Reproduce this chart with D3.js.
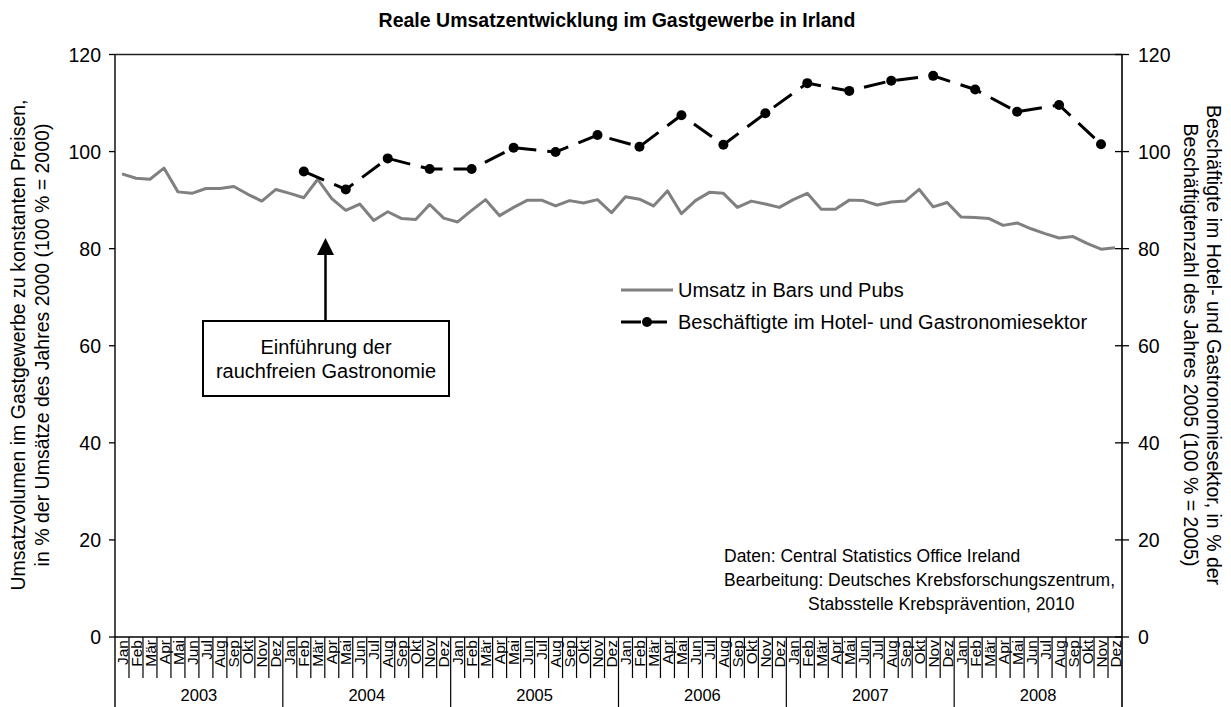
<!DOCTYPE html>
<html><head><meta charset="utf-8">
<script src="https://cdn.jsdelivr.net/npm/d3@7"></script>
<style>
html,body{margin:0;padding:0;background:#fff;}
svg text{font-family:"Liberation Sans",Arial,sans-serif;fill:#000;}
</style></head>
<body>
<svg id="c" width="1231" height="707"></svg>
<script>
const months = ["Jan","Feb","Mär","Apr","Mai","Jun","Jul","Aug","Sep","Okt","Nov","Dez"];
const years = ["2003","2004","2005","2006","2007","2008"];
const yTicks = [0,20,40,60,80,100,120];
// Umsatz in Bars und Pubs (monthly, Jan 2003 - Dez 2008)
const umsatz = [
 95.4,94.5,94.3,96.6,91.7,91.4,92.4,92.4,92.8,91.2,89.8,92.2,
 91.4,90.5,94.3,90.3,87.9,89.2,85.8,87.6,86.2,86.0,89.1,86.3,
 85.5,87.9,90.1,86.8,88.5,90.0,90.0,88.8,89.9,89.4,90.1,87.4,
 90.7,90.2,88.8,91.9,87.2,89.9,91.6,91.4,88.5,89.8,89.2,88.5,
 90.1,91.4,88.1,88.1,90.0,89.9,89.0,89.6,89.8,92.2,88.6,89.5,
 86.5,86.4,86.2,84.8,85.3,84.1,83.1,82.2,82.5,81.1,79.9,80.2];
// Beschäftigte im Hotel- und Gastronomiesektor (quarterly, Feb 2004 - Nov 2008)
const beschIndex = [13,16,19,22,25,28,31,34,37,40,43,46,49,52,55,58,61,64,67,70];
const besch = [95.9,92.2,98.6,96.4,96.4,100.8,99.9,103.4,101.0,107.5,
               101.4,107.9,114.1,112.5,114.6,115.6,112.8,108.2,109.6,101.5];
const seriesNames = ["Umsatz in Bars und Pubs","Beschäftigte im Hotel- und Gastronomiesektor"];

const svg = d3.select("#c");
const L = 115, R = 1122, T = 54.5, B = 637;
const nM = years.length * months.length;
const x = d3.scaleLinear().domain([0, nM]).range([L, R]);
const y = d3.scaleLinear().domain([0, 120]).range([B, T]);
const xc = i => x(i + 0.5);

// title
svg.append("text").attr("x", 617).attr("y", 27).attr("text-anchor","middle")
  .style("font-weight","bold").style("font-size","19.5px")
  .text("Reale Umsatzentwicklung im Gastgewerbe in Irland");

// frame
svg.append("line").attr("x1",L).attr("x2",R).attr("y1",T).attr("y2",T).attr("stroke","#222").attr("stroke-width",1.6);
svg.append("line").attr("x1",L).attr("x2",L).attr("y1",T).attr("y2",707).attr("stroke","#000").attr("stroke-width",1.4);
svg.append("line").attr("x1",R).attr("x2",R).attr("y1",T).attr("y2",707).attr("stroke","#000").attr("stroke-width",1.6);
svg.append("line").attr("x1",L).attr("x2",R).attr("y1",B).attr("y2",B).attr("stroke","#000").attr("stroke-width",1.4);

// y axes
const yl = svg.append("g");
yTicks.forEach(v=>{
  yl.append("line").attr("x1",L-6).attr("x2",L).attr("y1",y(v)).attr("y2",y(v)).attr("stroke","#000").attr("stroke-width",1.3);
  yl.append("text").attr("x",101).attr("y",y(v)).attr("dy","0.36em").attr("text-anchor","end")
    .style("font-size","19.5px").text(v);
  yl.append("line").attr("x1",R-7).attr("x2",R+7).attr("y1",y(v)).attr("y2",y(v)).attr("stroke","#000").attr("stroke-width",1.3);
  yl.append("text").attr("x",1138).attr("y",y(v)).attr("dy","0.36em").attr("text-anchor","start")
    .style("font-size","19.5px").text(v);
});

// x axis: month separators, month labels, year labels
for (let k = 1; k < nM; k++) {
  const yr = k % 12 === 0;
  svg.append("line").attr("x1",x(k)).attr("x2",x(k)).attr("y1",B).attr("y2", yr ? 707 : 678)
    .attr("stroke","#000").attr("stroke-width", 1.2);
}
for (let i = 0; i < nM; i++) {
  svg.append("text").attr("transform",`translate(${xc(i)},640) rotate(-90)`)
    .attr("text-anchor","end").attr("dy","0.36em").style("font-size","15.5px")
    .text(months[i % 12]);
}
years.forEach((yr,j)=>{
  svg.append("text").attr("x", x(j*12+6)).attr("y",701).attr("text-anchor","middle")
    .style("font-size","16.5px").text(yr);
});

// axis titles
svg.append("text").attr("transform","translate(18,345) rotate(-90)").attr("text-anchor","middle")
  .attr("dy","0.36em").style("font-size","19.5px").text("Umsatzvolumen im Gastgewerbe zu konstanten Preisen,");
svg.append("text").attr("transform","translate(42,345) rotate(-90)").attr("text-anchor","middle")
  .attr("dy","0.36em").style("font-size","19.5px").text("in % der Umsätze des Jahres 2000 (100 % = 2000)");
svg.append("text").attr("transform","translate(1214,345) rotate(90)").attr("text-anchor","middle")
  .attr("dy","0.36em").style("font-size","19.5px").text("Beschäftigte im Hotel- und Gastronomiesektor, in % der");
svg.append("text").attr("transform","translate(1191,345) rotate(90)").attr("text-anchor","middle")
  .attr("dy","0.36em").style("font-size","19.5px").text("Beschäftigtenzahl des Jahres 2005 (100 % = 2005)");

// gray line
const line = d3.line().x(d=>xc(d[0])).y(d=>y(d[1]));
svg.append("path").datum(umsatz.map((v,i)=>[i,v])).attr("d",line)
  .attr("fill","none").attr("stroke","#808080").attr("stroke-width",3).attr("stroke-linejoin","round");

// black dashed line
const bData = besch.map((v,k)=>[beschIndex[k],v]);
svg.append("path").datum(bData).attr("d",line)
  .attr("fill","none").attr("stroke","#000").attr("stroke-width",3).attr("stroke-dasharray","22,11");
svg.selectAll("circle.b").data(bData).enter().append("circle")
  .attr("cx",d=>xc(d[0])).attr("cy",d=>y(d[1])).attr("r",5).attr("fill","#000");

// legend
const lg = svg.append("g");
const lx0 = 621, lx1 = 673, tx = 678;
lg.append("line").attr("x1",lx0).attr("x2",lx1).attr("y1",290).attr("y2",290).attr("stroke","#808080").attr("stroke-width",3);
lg.append("text").attr("x",tx).attr("y",290).attr("dy","0.36em").style("font-size","20px").text(seriesNames[0]);
lg.append("line").attr("x1",lx0).attr("x2",lx1).attr("y1",322).attr("y2",322).attr("stroke","#000").attr("stroke-width",3).attr("stroke-dasharray","20,6");
lg.append("circle").attr("cx",(lx0+lx1)/2).attr("cy",322).attr("r",5).attr("fill","#000");
lg.append("text").attr("x",tx).attr("y",322).attr("dy","0.36em").style("font-size","20px").text(seriesNames[1]);

// annotation
const ax = 325.5;
svg.append("line").attr("x1",ax).attr("x2",ax).attr("y1",321).attr("y2",252).attr("stroke","#000").attr("stroke-width",2.5);
svg.append("path").attr("d",`M${ax},238 L${ax-8.5},255 L${ax+8.5},255 Z`).attr("fill","#000");
svg.append("rect").attr("x",203).attr("y",321).attr("width",246).attr("height",75)
  .attr("fill","#fff").attr("stroke","#000").attr("stroke-width",2);
svg.append("text").attr("x",326).attr("y",347).attr("dy","0.36em").attr("text-anchor","middle")
  .style("font-size","20px").text("Einführung der");
svg.append("text").attr("x",326).attr("y",371).attr("dy","0.36em").attr("text-anchor","middle")
  .style("font-size","20px").text("rauchfreien Gastronomie");

// source
svg.append("text").attr("x",724).attr("y",556).attr("dy","0.36em").style("font-size","17.5px").text("Daten: Central Statistics Office Ireland");
svg.append("text").attr("x",724).attr("y",580).attr("dy","0.36em").style("font-size","17.5px").text("Bearbeitung: Deutsches Krebsforschungszentrum,");
svg.append("text").attr("x",808).attr("y",604).attr("dy","0.36em").style("font-size","17.5px").text("Stabsstelle Krebsprävention, 2010");
</script>
</body></html>
